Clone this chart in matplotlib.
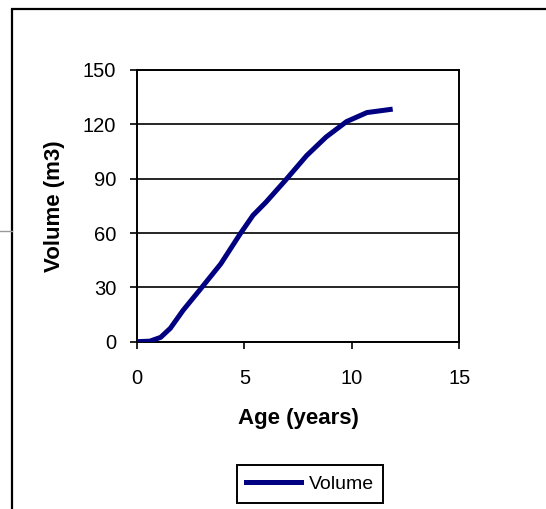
import matplotlib
matplotlib.use('Agg')
import matplotlib.pyplot as plt
from matplotlib.lines import Line2D
from matplotlib.patches import Rectangle

# values
age = [0, 0.6, 1.1, 1.55, 2.15, 2.95, 3.9, 4.8, 5.4, 6.0, 6.9, 7.9, 8.8, 9.75, 10.7, 11.9]
volume = [0, 0.3, 2.4, 7.4, 17.4, 29, 43, 59.5, 69.8, 77, 89, 102.8, 113, 121.5, 126.5, 128.4]

x_ticks = [0, 5, 10, 15]
y_ticks = [0, 30, 60, 90, 120, 150]

plt.rcParams['font.family'] = ['Liberation Sans', 'DejaVu Sans']

fig = plt.figure(figsize=(5.46, 5.09), dpi=100)

# outer chart-area border (runs off the right/bottom edges) and stray gray rule
fig.add_artist(Rectangle((12 / 546, -0.1), 1.0, 1 - 9 / 509 + 0.1,
                         transform=fig.transFigure, fill=False,
                         edgecolor='black', lw=1.6))
fig.add_artist(Line2D([0, 12 / 546], [1 - 231 / 509] * 2,
                      transform=fig.transFigure, color='#999999', lw=1))

ax = fig.add_axes([137 / 546, 1 - 341.7 / 509,
                   (459.3 - 137) / 546, (341.7 - 70) / 509])
ax.plot(age, volume, color='#000080', lw=3.6, solid_capstyle='butt',
        solid_joinstyle='round', label='Volume', zorder=3)

ax.set_xlim(0, 15)
ax.set_ylim(0, 150)
ax.set_xticks(x_ticks)
ax.set_yticks(y_ticks)
ax.tick_params(direction='out', length=5, width=1.2, labelsize=14.5, colors='black')
ax.tick_params(axis='x', pad=15)
ax.tick_params(axis='y', pad=10)
for s in ax.spines.values():
    s.set_linewidth(1.4)
    s.set_color('black')
ax.grid(axis='y', color='black', lw=1.2)
ax.set_axisbelow(True)

ax.set_xlabel('Age (years)', fontsize=16, fontweight='bold', labelpad=14)
ax.set_ylabel('Volume (m3)', fontsize=16, fontweight='bold', labelpad=13)

fig.legend(handles=[Line2D([], [], color='#000080', lw=3.6)], labels=['Volume'],
           loc='center', bbox_to_anchor=(310 / 546, 1 - 484 / 509),
           fontsize=14, frameon=True, fancybox=False, edgecolor='black',
           handlelength=2.8, handletextpad=0.4, borderpad=0.5,
           framealpha=1).get_frame().set_linewidth(1.4)

fig.savefig('out.png', dpi=100)
